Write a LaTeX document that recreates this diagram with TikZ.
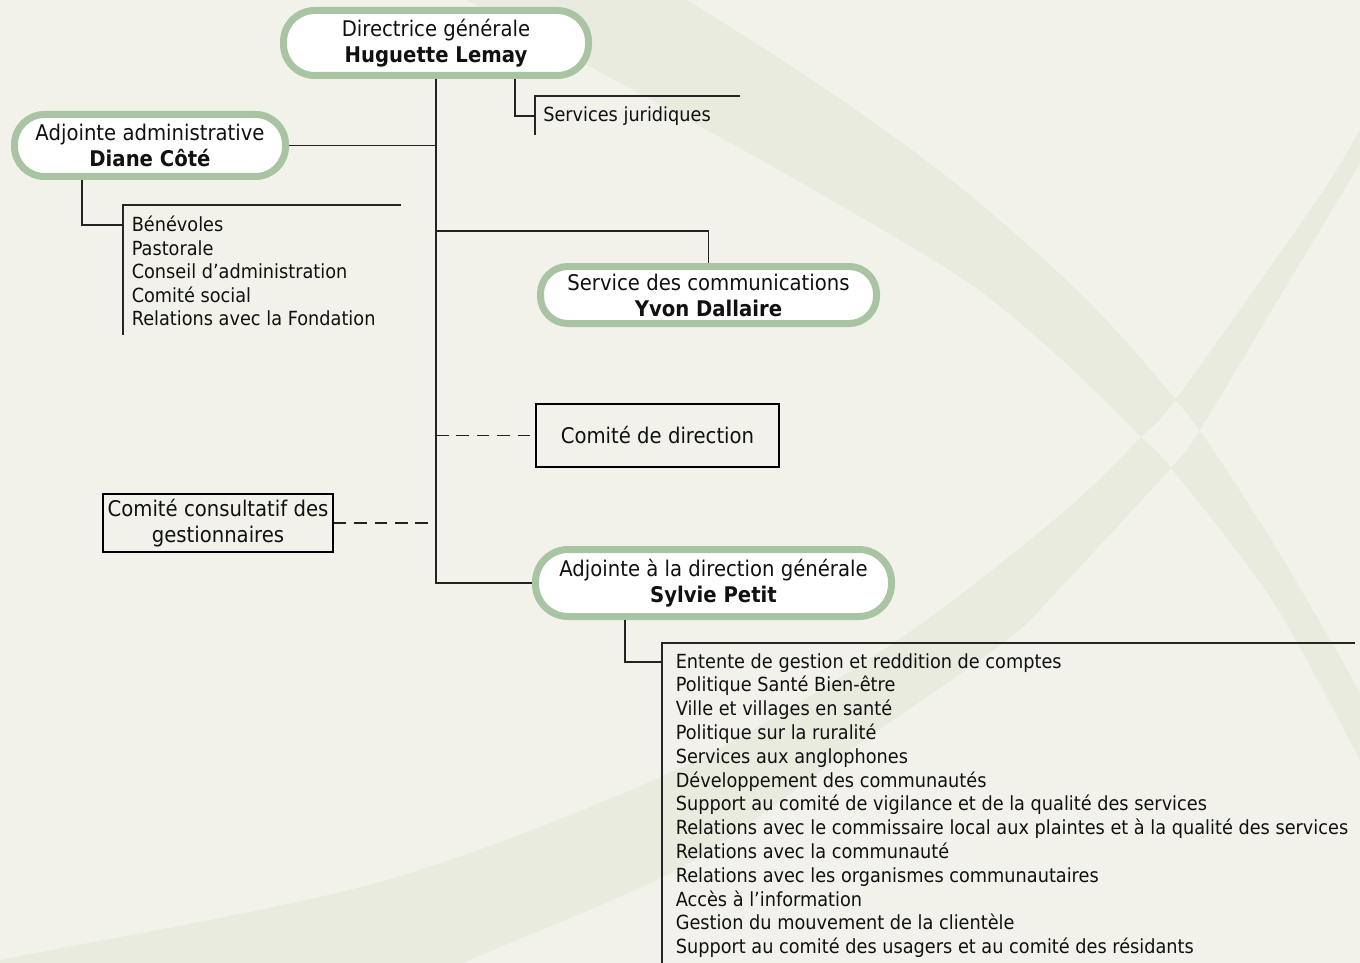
\documentclass[tikz,border=0pt]{standalone}
\usepackage{fontspec}
\setmainfont{DejaVu Sans}[FakeStretch=0.91]
\definecolor{bgc}{RGB}{242,242,234}
\definecolor{bandc}{RGB}{233,235,223}
\definecolor{pillc}{RGB}{168,196,163}
\definecolor{linkc}{RGB}{35,35,35}
\definecolor{txt}{RGB}{17,17,17}
\newcommand\listfont{\fontsize{14.6pt}{18pt}\selectfont}
\newcommand\nodefont{\fontsize{16.2pt}{19.5pt}\selectfont}
\begin{document}
\begin{tikzpicture}[x=0.75pt,y=-0.75pt,
  lnk/.style={draw=linkc, line width=1.25pt},
  frame/.style={draw=black!85, line width=1.3pt},
  dsh/.style={lnk, dash pattern=on 9.5pt off 5.8pt},
  pill/.style={draw=pillc, line width=5.25pt, fill=white, inner sep=0pt, align=center, font=\nodefont, text=txt},
  boxn/.style={draw=black, line width=1.2pt, inner sep=0pt, align=center, font=\nodefont, text=txt},
  item/.style={inner sep=0pt, anchor=base west, font=\listfont, text=txt}]

\useasboundingbox (0,0) rectangle (1360,963);
\fill[bgc] (0,0) rectangle (1360,963);
\begin{scope}
\clip (0,0) rectangle (1360,963);
\fill[bandc, even odd rule]
  plot[smooth] coordinates {(600,-50) (687,0) (830,92) (960,187) (1087,300) (1188,415) (1260,522) (1307,600) (1360,693) (1400,775)}
  -- plot[smooth] coordinates {(1390,820) (1360,760) (1272,600) (1171,468) (1141,437) (1060,358) (960,277) (770,165) (587,65) (420,-25)}
  -- cycle
  plot[smooth] coordinates {(-40,970) (0,960) (380,882) (680,768) (898,640) (1060,515) (1141,437) (1176,399) (1317,200) (1360,130) (1395,70)}
  -- plot[smooth] coordinates {(1390,113) (1338,200) (1270,313) (1200,430) (1171,468) (1060,588) (1007,640) (850,750) (680,868) (463,963) (300,1040) (-40,1040)}
  -- cycle;
\end{scope}

% main nodes
\node[pill, rounded corners=23.5pt, minimum width=228.75pt, minimum height=48.75pt] (dir) at (436,43) {Directrice générale\\\textbf{Huguette Lemay}};
\node[pill, rounded corners=22.5pt, minimum width=203.25pt, minimum height=46.5pt] (dia) at (150,145.5) {Adjointe administrative\\\textbf{Diane Côté}};
\node[pill, rounded corners=20.5pt, minimum width=252pt, minimum height=42.75pt] (com) at (708.5,295) {Service des communications\\\textbf{Yvon Dallaire}};
\node[pill, rounded corners=24.5pt, minimum width=267pt, minimum height=50.25pt] (syl) at (713.5,583) {Adjointe à la direction générale\\\textbf{Sylvie Petit}};
\node[boxn, minimum width=182.25pt, minimum height=47.25pt] (cd) at (657.5,435.5) {Comité de direction};
\node[boxn, minimum width=172.5pt, minimum height=43.5pt] (cc) at (218,523) {Comité consultatif des\\gestionnaires};

% trunk and branches
\coordinate (tC) at (436,231);
\draw[lnk] (dir.south) -- (dir.south |- syl.west) -- (syl.west);
\draw[lnk] (dir.south |- dia.east) -- (dia.east);
\draw[lnk] (tC) -| (com.north);
\draw[dsh] (dir.south |- cd.west) -- (cd.west);
\draw[dsh] (cc.east) -- (cc.east -| dir.south);

% Services juridiques
\coordinate (jTL) at (535,96);
\coordinate (jC) at (535,116);
\node[item] (jur) at (543,122) {Services juridiques};
\draw[frame] (740,96) -- (jTL) -- (535,135);
\draw[lnk] ([xshift=59.25pt]dir.south) |- (jC);

% Diane list
\coordinate (dTL) at (123,205);
\coordinate (dC) at (123,225);
\draw[frame] (401,205) -- (dTL) -- (123,335);
\draw[lnk] ([xshift=-51pt]dia.south) |- (dC);
\foreach \t [count=\i] in {Bénévoles,Pastorale,Conseil d’administration,Comité social,Relations avec la Fondation}
  \node[item] (dl\i) at (131.5,{231.8+23.4*(\i-1)}) {\t};

% Sylvie list
\coordinate (sTL) at (662,643);
\coordinate (sC) at (662,662);
\draw[frame] (1355,643) -- (sTL) -- (662,975);
\draw[lnk] ([xshift=-66.375pt]syl.south) |- (sC);
\foreach \t [count=\i] in {Entente de gestion et reddition de comptes,Politique Santé Bien-être,Ville et villages en santé,Politique sur la ruralité,Services aux anglophones,Développement des communautés,Support au comité de vigilance et de la qualité des services,Relations avec le commissaire local aux plaintes et à la qualité des services,Relations avec la communauté,Relations avec les organismes communautaires,Accès à l’information,Gestion du mouvement de la clientèle,Support au comité des usagers et au comité des résidants}
  \node[item] (sl\i) at (675.5,{668+23.8*(\i-1)}) {\t};
\end{tikzpicture}
\end{document}
